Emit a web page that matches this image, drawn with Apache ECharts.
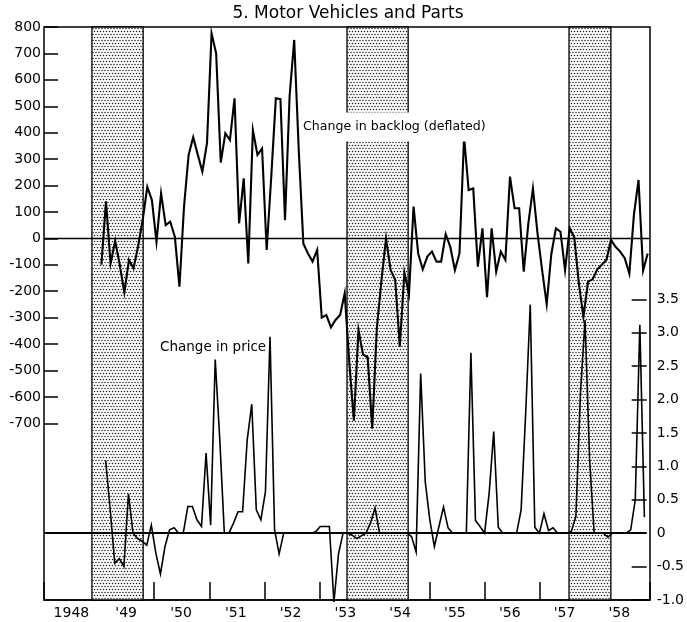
<!DOCTYPE html>
<html>
<head>
<meta charset="utf-8">
<script src="https://cdn.jsdelivr.net/npm/echarts@6/dist/echarts.min.js"></script>
<style>
  html, body { margin: 0; padding: 0; background: #fff; }
  #chart { width: 687px; height: 622px; }
</style>
</head>
<body>
<div id="chart"></div>
<script>
// ---- data -------------------------------------------------------------
const TITLE = '5. Motor Vehicles and Parts';
const YEAR_MIN = 1948;
const YEAR_MAX = 1959;
const yearLabels = ['1948', "'49", "'50", "'51", "'52", "'53", "'54", "'55", "'56", "'57", "'58"];

// business-cycle contractions (decimal years)
const recessions = [[1948.87, 1949.80], [1953.50, 1954.61], [1957.53, 1958.29]];

// change in backlog (deflated), monthly, first value = Jan 1949
const backlogFirstMonth = 12; // months counted from Jan 1948
const backlog = [
  -100, 140, -95, -10, -100, -205, -82, -113, -30, 70, 195, 145,
  -13, 170, 50, 63, 6, -183, 120, 316, 383, 316, 253, 360,
  776, 700, 287, 398, 372, 530, 57, 227, -95, 410, 316, 340,
  -44, 233, 530, 527, 69, 540, 751, 330, -20, -57, -88, -44,
  -300, -290, -337, -309, -290, -208, -470, -690, -347, -440, -450, -720,
  -340, -160, 0, -120, -157, -410, -130, -210, 120, -57, -117, -69,
  -50, -88, -88, 16, -32, -120, -57, 383, 183, 189, -107, 38,
  -223, 38, -126, -50, -82, 234, 114, 114, -126, 57, 189, 19,
  -120, -249, -60, 38, 25, -120, 38, 5, -170, -297, -164, -155,
  -118, -100, -82, -6, -32, -50, -75, -133, 90, 221, -122, -57
];

// change in price, monthly, first value = Feb 1949
const priceFirstMonth = 13;
const price = [
  1.09, 0.35, -0.45, -0.38, -0.5, 0.59, 0.0, -0.08, -0.12, -0.18, 0.12,
  -0.3, -0.61, -0.2, 0.05, 0.08, 0.0, 0.0, 0.4, 0.4, 0.2, 0.1, 1.2,
  0.12, 2.6, 1.4, 0.0, 0.0, 0.15, 0.32, 0.32, 1.39, 1.93, 0.35, 0.2,
  0.62, 2.94, 0.05, -0.31, 0, 0, 0, 0, 0, 0, 0, 0.02,
  0.1, 0.1, 0.1, -1.03, -0.31, 0, 0, -0.03, -0.08, -0.04, 0, 0.15,
  0.38, 0, 0, 0, 0, 0, 0, 0, -0.05, -0.28, 2.39, 0.77,
  0.2, -0.2, 0.1, 0.39, 0.08, 0, 0, 0, 0, 2.7, 0.19, 0.1,
  0, 0.6, 1.52, 0.09, 0, 0, 0, 0, 0.35, 1.8, 3.42, 0.09,
  0, 0.29, 0.04, 0.08, 0, 0, 0, 0.03, 0.25, 2.1, 3.19, 1.1,
  0, 0, 0, -0.06, 0, 0, 0, 0, 0.05, 0.5, 3.12, 0.24
];

const backlogTicks = { min: -700, max: 800, step: 100 };
const priceTicks = { min: -1, max: 3.5, step: 0.5 };

const backlogLabel = 'Change in backlog (deflated)';
const priceLabel = 'Change in price';

// ---- helpers ----------------------------------------------------------
function monthly(first, values) {
  return values.map((v, k) => [YEAR_MIN + (first + k + 0.5) / 12, v]);
}

function stipple() {
  const c = document.createElement('canvas');
  c.width = 6; c.height = 6;
  const g = c.getContext('2d');
  g.fillStyle = '#fff';
  g.fillRect(0, 0, 6, 6);
  g.fillStyle = '#1a1a1a';
  [[1.5, 1.5], [4.5, 1.5], [0, 4.5], [3, 4.5], [6, 4.5]].forEach(([x, y]) => {
    g.beginPath();
    g.arc(x, y, 0.75, 0, Math.PI * 2);
    g.fill();
  });
  return c;
}

const FONT = '"DejaVu Sans", "Liberation Sans", sans-serif';
const INK = '#000';

const L = 44, R = 37, TOP = 27, BOTTOM = 22;
const PLOT_W = 687 - L - R;

const chart = echarts.init(document.getElementById('chart'), null, { renderer: 'canvas' });

const option = {
  animation: false,
  backgroundColor: '#fff',
  grid: [
    // frame + year ticks + contraction bands
    { left: L, top: TOP, width: PLOT_W, bottom: BOTTOM, show: true, borderColor: INK, borderWidth: 1.5, backgroundColor: 'transparent' },
    // backlog panel (800 .. -700)
    { left: L, top: TOP, width: PLOT_W, height: 396.3 },
    // price panel (3.5 .. -1.0)
    { left: L, top: 299.3, width: PLOT_W, bottom: BOTTOM }
  ],
  xAxis: [
    {
      gridIndex: 0, type: 'value', min: YEAR_MIN, max: YEAR_MAX, interval: 1,
      axisLine: { show: true, lineStyle: { color: INK, width: 1.5 } },
      axisTick: { show: true, inside: true, length: 18, lineStyle: { color: INK, width: 1.5 } },
      axisLabel: { show: false }, splitLine: { show: false }
    },
    {
      gridIndex: 1, type: 'value', min: YEAR_MIN, max: YEAR_MAX, show: false, splitLine: { show: false }
    },
    {
      gridIndex: 2, type: 'value', min: YEAR_MIN, max: YEAR_MAX, interval: 0.5,
      axisLine: { show: false }, axisTick: { show: false }, splitLine: { show: false },
      axisLabel: {
        show: true, margin: 6, color: INK, fontFamily: FONT, fontSize: 14,
        showMinLabel: true, showMaxLabel: true,
        formatter: v => {
          const y = Math.floor(v);
          if (Math.abs(v - y - 0.5) > 1e-6) return '';
          return yearLabels[y - YEAR_MIN] || '';
        }
      }
    }
  ],
  yAxis: [
    { gridIndex: 0, type: 'value', min: 0, max: 1, show: false, splitLine: { show: false } },
    {
      gridIndex: 1, type: 'value', position: 'left',
      min: backlogTicks.min, max: backlogTicks.max, interval: backlogTicks.step,
      axisLine: { show: false },
      axisTick: { show: true, inside: true, length: 14, lineStyle: { color: INK, width: 1.5 } },
      axisLabel: { color: INK, fontFamily: FONT, fontSize: 14, margin: 3 },
      splitLine: { show: false }
    },
    {
      gridIndex: 2, type: 'value', position: 'right',
      min: priceTicks.min, max: priceTicks.max, interval: priceTicks.step,
      axisLine: { show: false },
      axisTick: { show: true, inside: true, length: 15, lineStyle: { color: INK, width: 1.5 } },
      axisLabel: {
        color: INK, fontFamily: FONT, fontSize: 14, margin: 10,
        formatter: v => (v === 0 ? '0' : v.toFixed(1))
      },
      splitLine: { show: false }
    }
  ],
  series: [
    {
      name: 'contractions', type: 'line', xAxisIndex: 0, yAxisIndex: 0, z: 1,
      data: [[YEAR_MIN, -1]], symbol: 'none', lineStyle: { opacity: 0 }, silent: true,
      markArea: {
        silent: true,
        itemStyle: { color: { image: stipple(), repeat: 'repeat' }, borderColor: INK, borderWidth: 1.3 },
        data: recessions.map(([a, b]) => [{ xAxis: a }, { xAxis: b }])
      }
    },
    {
      name: backlogLabel, type: 'line', xAxisIndex: 1, yAxisIndex: 1, z: 4,
      data: monthly(backlogFirstMonth, backlog),
      clip: false, showSymbol: false, symbol: 'none',
      lineStyle: { color: INK, width: 2.1, join: 'miter' },
      markLine: {
        silent: true, symbol: 'none', label: { show: false },
        lineStyle: { color: INK, width: 1.3, type: 'solid' },
        data: [{ yAxis: 0 }]
      }
    },
    {
      name: priceLabel, type: 'line', xAxisIndex: 2, yAxisIndex: 2, z: 4,
      data: monthly(priceFirstMonth, price),
      clip: false, showSymbol: false, symbol: 'none',
      lineStyle: { color: INK, width: 1.6, join: 'miter' },
      markLine: {
        silent: true, symbol: 'none', label: { show: false },
        lineStyle: { color: INK, width: 1.8, type: 'solid' },
        data: [{ yAxis: 0 }]
      }
    }
  ],
  graphic: [
    {
      type: 'text', x: 348, y: 14, z: 10,
      style: { text: TITLE, fill: INK, font: '17px ' + FONT, align: 'center', verticalAlign: 'middle' }
    },
    {
      type: 'text', x: 302, y: 127, z: 10,
      style: {
        text: backlogLabel, fill: INK, font: '12.6px ' + FONT, align: 'left', verticalAlign: 'middle',
        backgroundColor: '#fff', padding: [9, 1, 7, 1]
      }
    },
    {
      type: 'text', x: 160, y: 347, z: 10,
      style: { text: priceLabel, fill: INK, font: '13.5px ' + FONT, align: 'left', verticalAlign: 'middle' }
    }
  ]
};

chart.setOption(option);
</script>
</body>
</html>
